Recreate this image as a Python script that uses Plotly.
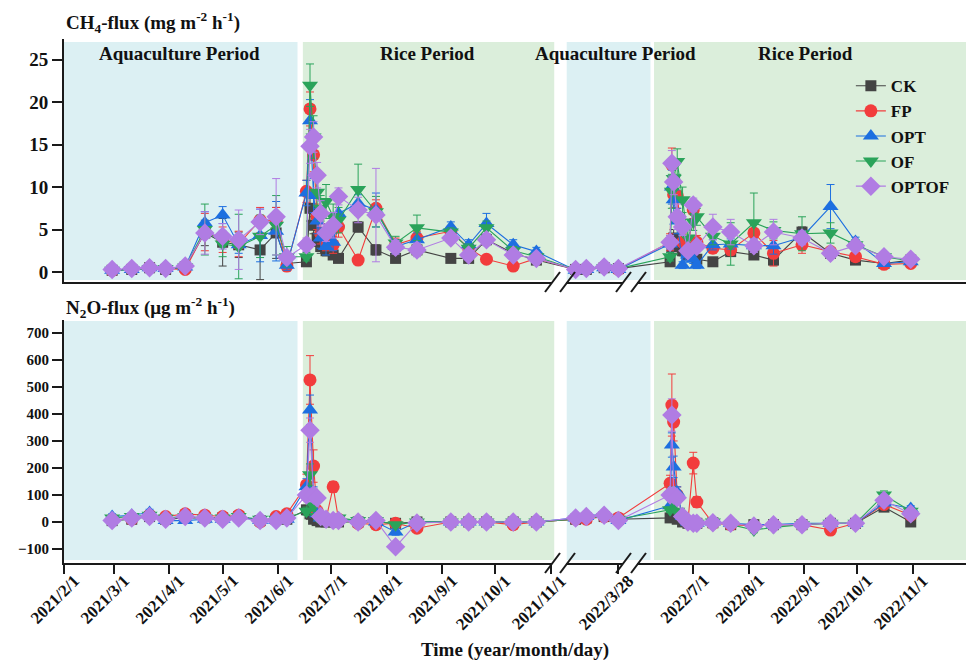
import plotly.graph_objects as go

# ---------------- sampling dates ----------------
DATES_AQ21 = ["2021-02-28", "2021-03-11", "2021-03-21", "2021-03-30", "2021-04-10", "2021-04-21",
              "2021-05-01", "2021-05-10", "2021-05-22", "2021-05-31", "2021-06-06"]
DATES_RI21 = ["2021-06-17", "2021-06-19", "2021-06-21", "2021-06-23", "2021-06-25", "2021-06-28",
              "2021-07-02", "2021-07-05", "2021-07-16", "2021-07-26", "2021-08-06", "2021-08-18",
              "2021-09-06", "2021-09-16", "2021-09-26", "2021-10-11", "2021-10-24"]
DATES_AQ22 = ["2022-03-04", "2022-03-10", "2022-03-20", "2022-03-28"]
DATES_RI22 = ["2022-06-18", "2022-06-19", "2022-06-20", "2022-06-22", "2022-06-25", "2022-06-28",
              "2022-07-01", "2022-07-03", "2022-07-12", "2022-07-22", "2022-08-04", "2022-08-15",
              "2022-08-31", "2022-09-16", "2022-09-30", "2022-10-16", "2022-10-31"]
DATES = DATES_AQ21 + DATES_RI21 + DATES_AQ22 + DATES_RI22

SERIES = ["CK", "FP", "OPT", "OF", "OPTOF"]

# ---------------- CH4 flux (mg m-2 h-1) ----------------
CH4_CK = [0.2, 0.3, 0.5, 0.3, 0.6, 4.6, 3.5, 3.2, 2.6, 4.6, 1.0,
          1.2, 7.5, 5.5, 4.0, 3.0, 2.5, 2.0, 1.6, 5.3, 2.6, 1.6, 2.6, 1.6, 1.6, 3.8, 2.2, 1.4,
          0.3, 0.3, 0.5, 0.4,
          1.2, 3.0, 4.0, 3.0, 2.5, 2.0, 2.8, 1.5, 1.2, 2.4, 2.0, 1.4, 4.7, 2.2, 1.4, 1.0, 1.4]
CH4_FP = [0.2, 0.4, 0.5, 0.4, 0.3, 4.7, 3.8, 3.3, 6.1, 6.0, 0.7,
          9.5, 19.2, 13.8, 6.5, 4.5, 3.5, 3.2, 5.3, 1.4, 7.5, 3.2, 4.0, 4.8, 2.8, 1.5, 0.7, 1.6,
          0.3, 0.4, 0.6, 0.3,
          3.5, 12.6, 9.1, 9.0, 3.5, 2.5, 7.3, 3.5, 2.8, 2.6, 4.6, 2.2, 3.2, 2.4, 1.8, 0.9, 1.0]
CH4_OPT = [0.2, 0.3, 0.5, 0.4, 0.6, 5.8, 6.7, 3.2, 4.3, 4.8, 0.8,
           9.3, 17.8, 9.0, 6.0, 4.0, 3.0, 3.5, 6.9, 8.1, 7.3, 3.0, 3.8, 5.3, 3.2, 5.7, 3.2, 2.4,
           0.2, 0.3, 0.5, 0.3,
           3.3, 10.0, 8.5, 6.0, 0.8, 2.0, 1.5, 0.8, 3.2, 3.3, 3.1, 3.1, 4.1, 7.7, 3.6, 1.0, 1.2]
CH4_OF = [0.2, 0.3, 0.4, 0.4, 0.6, 5.0, 3.3, 3.0, 4.2, 5.5, 1.8,
          1.8, 22.0, 15.9, 9.4, 7.5, 8.3, 6.5, 6.1, 9.7, 7.1, 3.4, 5.2, 4.7, 2.8, 5.2, 2.5, 1.8,
          0.3, 0.3, 0.5, 0.4,
          1.8, 9.5, 11.0, 13.0, 8.5, 4.0, 5.9, 6.5, 4.2, 3.3, 5.8, 4.9, 4.5, 4.6, 3.2, 1.8, 1.3]
CH4_OPTOF = [0.3, 0.4, 0.5, 0.4, 0.7, 4.6, 4.2, 3.8, 5.9, 6.5, 1.7,
             3.2, 14.8, 15.9, 11.4, 6.9, 4.6, 5.5, 8.9, 7.3, 6.7, 2.9, 2.6, 4.0, 2.0, 3.8, 2.0, 1.6,
             0.3, 0.4, 0.6, 0.4,
             3.5, 12.8, 10.6, 6.5, 5.3, 2.5, 7.9, 3.0, 5.3, 4.7, 3.1, 4.7, 4.0, 2.2, 3.1, 1.8, 1.5]

CH4_CK_SD = [0.1, 0.1, 0.2, 0.1, 0.2, 1.5, 2.8, 1.5, 3.5, 3.0, 0.6,
             0.3, 1.5, 1.0, 1.0, 0.8, 0.6, 0.5, 0.4, 0.6, 0.6, 0.5, 0.5, 0.4, 0.4, 0.6, 0.4, 0.3,
             0.2, 0.2, 0.2, 0.2,
             0.4, 0.8, 1.0, 0.8, 0.6, 0.5, 0.6, 0.4, 0.4, 0.5, 0.5, 0.6, 0.6, 0.5, 0.4, 0.3, 0.3]
CH4_FP_SD = [0.1, 0.1, 0.2, 0.1, 0.2, 2.2, 1.5, 1.5, 1.5, 1.6, 0.6,
             1.3, 2.0, 2.0, 1.5, 1.2, 1.0, 1.0, 1.2, 0.4, 1.0, 0.8, 0.8, 0.6, 0.5, 0.4, 0.3, 0.4,
             0.2, 0.2, 0.2, 0.2,
             1.0, 2.0, 1.5, 1.5, 1.0, 0.8, 1.0, 0.8, 0.6, 0.6, 1.0, 1.5, 1.0, 0.5, 0.4, 0.3, 0.3]
CH4_OPT_SD = [0.1, 0.1, 0.2, 0.1, 0.2, 1.3, 1.0, 1.0, 3.1, 3.5, 0.6,
              1.5, 2.5, 2.0, 1.5, 1.2, 1.0, 1.0, 1.5, 1.0, 2.0, 0.8, 0.8, 0.6, 0.6, 1.2, 0.6, 0.5,
              0.2, 0.2, 0.2, 0.2,
              1.0, 2.0, 2.0, 1.5, 0.4, 0.6, 0.5, 0.4, 0.6, 0.6, 0.8, 1.0, 0.8, 2.6, 0.5, 0.3, 0.3]
CH4_OF_SD = [0.1, 0.1, 0.2, 0.1, 0.2, 3.0, 1.5, 3.8, 2.5, 3.5, 1.2,
             0.5, 2.5, 2.5, 2.5, 1.5, 2.0, 1.5, 1.5, 3.0, 1.8, 0.8, 1.5, 0.5, 0.5, 0.8, 0.5, 0.4,
             0.2, 0.2, 0.2, 0.2,
             0.5, 2.0, 2.0, 1.5, 1.5, 1.0, 1.0, 1.0, 1.0, 2.5, 3.5, 1.0, 2.0, 1.2, 0.6, 0.4, 0.3]
CH4_OPTOF_SD = [0.1, 0.1, 0.2, 0.1, 0.2, 2.5, 1.5, 3.5, 1.5, 4.5, 0.5,
                0.8, 2.0, 1.8, 1.5, 1.5, 1.0, 1.5, 1.0, 1.5, 5.5, 0.8, 0.8, 0.6, 0.5, 0.7, 0.4, 0.4,
                0.2, 0.2, 0.2, 0.2,
                0.8, 1.5, 1.5, 1.5, 1.0, 0.6, 0.8, 0.6, 1.5, 1.5, 0.8, 1.5, 0.8, 0.6, 0.6, 0.4, 0.3]

# ---------------- N2O flux (ug m-2 h-1) ----------------
N2O_CK = [5, 10, 20, 10, 15, 15, 15, 20, 5, 10, 10,
          45, 30, 10, 5, 0, 0, 0, 0, 0, 0, -5, 0, 0, 0, 0, 0, 0,
          10, 15, 20, 10,
          15, 40, 30, 10, 0, -5, -5, -5, -3, -10, -10, -10, -10, -5, -5, 55, 0]
N2O_FP = [10, 10, 25, 20, 30, 25, 20, 25, 0, 20, 30,
          137, 526, 207, 40, 20, 10, 130, 10, -5, -10, -5, -23, 0, 0, 0, -10, 0,
          10, 10, 20, 15,
          143, 433, 370, 100, 20, 0, 218, 74, -5, -10, -15, -10, -10, -30, -5, 65, 25]
N2O_OPT = [20, 25, 35, 5, 5, 10, 10, 20, 5, 5, 10,
           130, 415, 100, 30, 15, 10, 5, 10, 5, 0, -37, 0, 0, 0, 0, 0, 0,
           15, 20, 30, 5,
           60, 285, 204, 110, 20, 0, -5, -5, 0, -5, -10, -10, -5, -5, -5, 70, 50]
N2O_OF = [15, 20, 25, 15, 20, 15, 15, 20, 10, 10, 15,
          40, 175, 60, 20, 10, 5, 5, 15, 5, 5, -10, 0, 0, 0, 0, 0, 0,
          10, 15, 20, 10,
          45, 100, 80, 40, 10, 0, -5, -5, 0, -10, -30, -20, -10, -5, -5, 100, 40]
N2O_OPTOF = [5, 15, 20, 10, 20, 15, 10, 15, 5, 5, 15,
             100, 340, 100, 89, 20, 10, 5, 5, 0, 5, -92, -4, 0, 0, 0, 0, 0,
             15, 20, 25, 5,
             100, 396, 100, 90, 20, 0, -5, -5, -3, -5, -15, -10, -10, -5, -5, 80, 30]

N2O_CK_SD = [8, 8, 10, 8, 8, 8, 8, 10, 8, 8, 8,
             15, 20, 10, 8, 5, 5, 5, 5, 5, 5, 8, 5, 5, 5, 5, 5, 5,
             8, 8, 8, 8,
             8, 15, 10, 8, 5, 5, 5, 5, 5, 5, 5, 5, 5, 5, 5, 10, 8]
N2O_FP_SD = [8, 8, 10, 8, 10, 8, 8, 10, 8, 8, 10,
             40, 90, 60, 20, 10, 8, 20, 10, 8, 10, 15, 10, 5, 5, 5, 8, 5,
             8, 8, 8, 8,
             30, 115, 70, 30, 10, 8, 40, 20, 5, 8, 8, 8, 8, 10, 5, 10, 8]
N2O_OPT_SD = [10, 10, 12, 8, 8, 8, 8, 10, 8, 8, 8,
              30, 55, 30, 15, 10, 8, 8, 8, 5, 5, 12, 5, 5, 5, 5, 5, 5,
              8, 8, 10, 8,
              20, 45, 40, 20, 10, 5, 5, 5, 5, 5, 8, 5, 5, 5, 5, 10, 10]
N2O_OF_SD = [8, 8, 10, 8, 8, 8, 8, 10, 8, 8, 8,
             15, 40, 20, 10, 8, 5, 5, 8, 5, 5, 8, 5, 5, 5, 5, 5, 5,
             8, 8, 8, 8,
             10, 30, 20, 10, 5, 5, 5, 5, 5, 8, 10, 8, 5, 5, 5, 15, 8]
N2O_OPTOF_SD = [8, 8, 10, 8, 8, 8, 8, 10, 8, 8, 8,
                20, 45, 25, 15, 10, 8, 5, 5, 5, 5, 10, 5, 5, 5, 5, 5, 5,
                8, 8, 8, 8,
                20, 60, 25, 15, 8, 5, 5, 5, 5, 5, 8, 5, 5, 5, 5, 10, 8]

# ---------------- axis ticks / periods ----------------
TICK_DATES = ["2021-02-01", "2021-03-01", "2021-04-01", "2021-05-01", "2021-06-01", "2021-07-01",
              "2021-08-01", "2021-09-01", "2021-10-01", "2021-11-01", "2022-03-28",
              "2022-07-01", "2022-08-01", "2022-09-01", "2022-10-01", "2022-11-01"]
TICK_LABELS = ["2021/2/1", "2021/3/1", "2021/4/1", "2021/5/1", "2021/6/1", "2021/7/1",
               "2021/8/1", "2021/9/1", "2021/10/1", "2021/11/1", "2022/3/28",
               "2022/7/1", "2022/8/1", "2022/9/1", "2022/10/1", "2022/11/1"]
CH4_TICKS = [0, 5, 10, 15, 20, 25]
N2O_TICKS = [-100, 0, 100, 200, 300, 400, 500, 600, 700]

PERIOD_NAMES = ["Aquaculture Period", "Rice Period", "Aquaculture Period", "Rice Period"]
PERIOD_START = ["2021-02-01", "2021-06-15", "2022-02-27", "2022-06-09"]
PERIOD_END = ["2021-06-12", "2021-11-03", "2022-06-07", "2022-12-01"]
PERIOD_COLORS = ["#dcf0f3", "#dbeedb", "#dcf0f3", "#dbeedb"]

X_RANGE = ["2021-02-01", "2022-12-01"]
X_BREAKS = [["2021-11-06", "2022-02-23"], ["2022-04-04", "2022-05-27"]]

COLORS = {"CK": "#444444", "FP": "#f23c3c", "OPT": "#1d6fe0", "OF": "#2aa35a", "OPTOF": "#b07ce3"}
SYMBOLS = {"CK": "square", "FP": "circle", "OPT": "triangle-up", "OF": "triangle-down", "OPTOF": "diamond"}
SIZES = {"CK": 11, "FP": 13, "OPT": 14, "OF": 14, "OPTOF": 15}

CH4 = {"CK": (CH4_CK, CH4_CK_SD), "FP": (CH4_FP, CH4_FP_SD), "OPT": (CH4_OPT, CH4_OPT_SD),
       "OF": (CH4_OF, CH4_OF_SD), "OPTOF": (CH4_OPTOF, CH4_OPTOF_SD)}
N2O = {"CK": (N2O_CK, N2O_CK_SD), "FP": (N2O_FP, N2O_FP_SD), "OPT": (N2O_OPT, N2O_OPT_SD),
       "OF": (N2O_OF, N2O_OF_SD), "OPTOF": (N2O_OPTOF, N2O_OPTOF_SD)}

FONT = "Liberation Serif"
AX = "#1a1a1a"
TXT = "#111111"
W, H = 968, 662

fig = go.Figure()
for s in SERIES:
    for (vals, sd), xa, ya, show in [(CH4[s], "x", "y", True), (N2O[s], "x2", "y2", False)]:
        fig.add_trace(go.Scatter(
            x=DATES, y=vals, name=s, legendgroup=s, showlegend=show,
            xaxis=xa, yaxis=ya, mode="lines+markers",
            line=dict(color=COLORS[s], width=1.1),
            marker=dict(symbol=SYMBOLS[s], size=SIZES[s], color=COLORS[s], line=dict(width=0)),
            error_y=dict(type="data", array=sd, visible=True, color=COLORS[s], thickness=1, width=4),
        ))

x_left, x_right = 64 / W, 966 / W
top_dom = [1 - 282 / H, 1 - 39 / H]
bot_dom = [1 - 563 / H, 1 - 320 / H]

common_x = dict(type="date", range=X_RANGE, rangebreaks=[dict(bounds=b) for b in X_BREAKS],
                showline=True, linewidth=2, linecolor=AX, showgrid=False, zeroline=False,
                domain=[x_left, x_right], automargin=False)
common_y = dict(showline=True, linewidth=2, linecolor=AX, ticks="outside", ticklen=10, tickwidth=2,
                tickcolor=AX, showgrid=False, zeroline=False, automargin=False, tickmode="array")

fig.update_layout(
    width=W, height=H, margin=dict(l=0, r=0, t=0, b=0, autoexpand=False),
    paper_bgcolor="white", plot_bgcolor="white",
    xaxis=dict(**common_x, anchor="y", showticklabels=False, ticks=""),
    xaxis2=dict(**common_x, anchor="y2", tickmode="array", tickvals=TICK_DATES, showticklabels=False,
                ticks="outside", ticklen=9, tickwidth=2, tickcolor=AX),
    yaxis=dict(**common_y, domain=top_dom, anchor="x", range=[-1.18, 27.44], tickvals=CH4_TICKS,
               tickfont=dict(family=FONT, size=19, color=TXT, weight="bold")),
    yaxis2=dict(**common_y, domain=bot_dom, anchor="x2", range=[-152, 748], tickvals=N2O_TICKS,
                tickfont=dict(family=FONT, size=15, color=TXT, weight="bold")),
    legend=dict(x=0.879, y=0.897, xanchor="left", yanchor="top", bgcolor="rgba(0,0,0,0)",
                font=dict(family=FONT, size=17, color=TXT, weight="bold"), tracegroupgap=0,
                itemwidth=30),
    showlegend=True,
)

# rotated date tick labels, positioned on the x2 date scale
for d, lab in zip(TICK_DATES, TICK_LABELS):
    fig.add_annotation(text=lab, xref="x2", yref="paper", x=d, y=1 - 569 / H,
                       xanchor="right", yanchor="top", textangle=-45, xshift=22, showarrow=False,
                       font=dict(family=FONT, size=17, color=TXT, weight="bold"))

# period backgrounds
for i in range(len(PERIOD_NAMES)):
    fig.add_shape(type="rect", xref="x", yref="y domain", x0=PERIOD_START[i], x1=PERIOD_END[i],
                  y0=0.008, y1=0.988, fillcolor=PERIOD_COLORS[i], line_width=0, layer="below")
    fig.add_shape(type="rect", xref="x2", yref="y2 domain", x0=PERIOD_START[i], x1=PERIOD_END[i],
                  y0=0.012, y1=0.996, fillcolor=PERIOD_COLORS[i], line_width=0, layer="below")

# period labels
LABEL_X = [179, 427, 615, 805]
for name, px in zip(PERIOD_NAMES, LABEL_X):
    fig.add_annotation(text=name, xref="paper", yref="paper", x=px / W, y=1 - 53 / H,
                       showarrow=False, xanchor="center", yanchor="middle",
                       font=dict(family=FONT, size=19, color=TXT, weight="bold"))

# axis break marks
for axis_y in [282, 563]:
    for bx in [559, 630]:
        fig.add_shape(type="rect", xref="paper", yref="paper", x0=(bx - 7) / W, x1=(bx + 7) / W,
                      y0=1 - (axis_y + 2) / H, y1=1 - (axis_y - 2) / H, fillcolor="white",
                      line_width=0, layer="above")
        for sx in [bx - 14, bx + 1]:
            fig.add_shape(type="line", xref="paper", yref="paper", x0=sx / W, x1=(sx + 15) / W,
                          y0=1 - (axis_y + 10) / H, y1=1 - (axis_y - 10) / H,
                          line=dict(color=AX, width=2), layer="above")

# titles
fig.add_annotation(text="CH<sub>4</sub>-flux (mg m<sup>-2</sup> h<sup>-1</sup>)", xref="paper", yref="paper",
                   x=64 / W, y=1 - 22 / H, xanchor="left", yanchor="middle", showarrow=False,
                   font=dict(family=FONT, size=19, color=TXT, weight="bold"))
fig.add_annotation(text="N<sub>2</sub>O-flux (μg m<sup>-2</sup> h<sup>-1</sup>)", xref="paper", yref="paper",
                   x=64 / W, y=1 - 307 / H, xanchor="left", yanchor="middle", showarrow=False,
                   font=dict(family=FONT, size=19, color=TXT, weight="bold"))
fig.add_annotation(text="Time (year/month/day)", xref="paper", yref="paper",
                   x=515 / W, y=1 - 650 / H, xanchor="center", yanchor="middle", showarrow=False,
                   font=dict(family=FONT, size=19, color=TXT, weight="bold"))

fig.write_html("out.html")
